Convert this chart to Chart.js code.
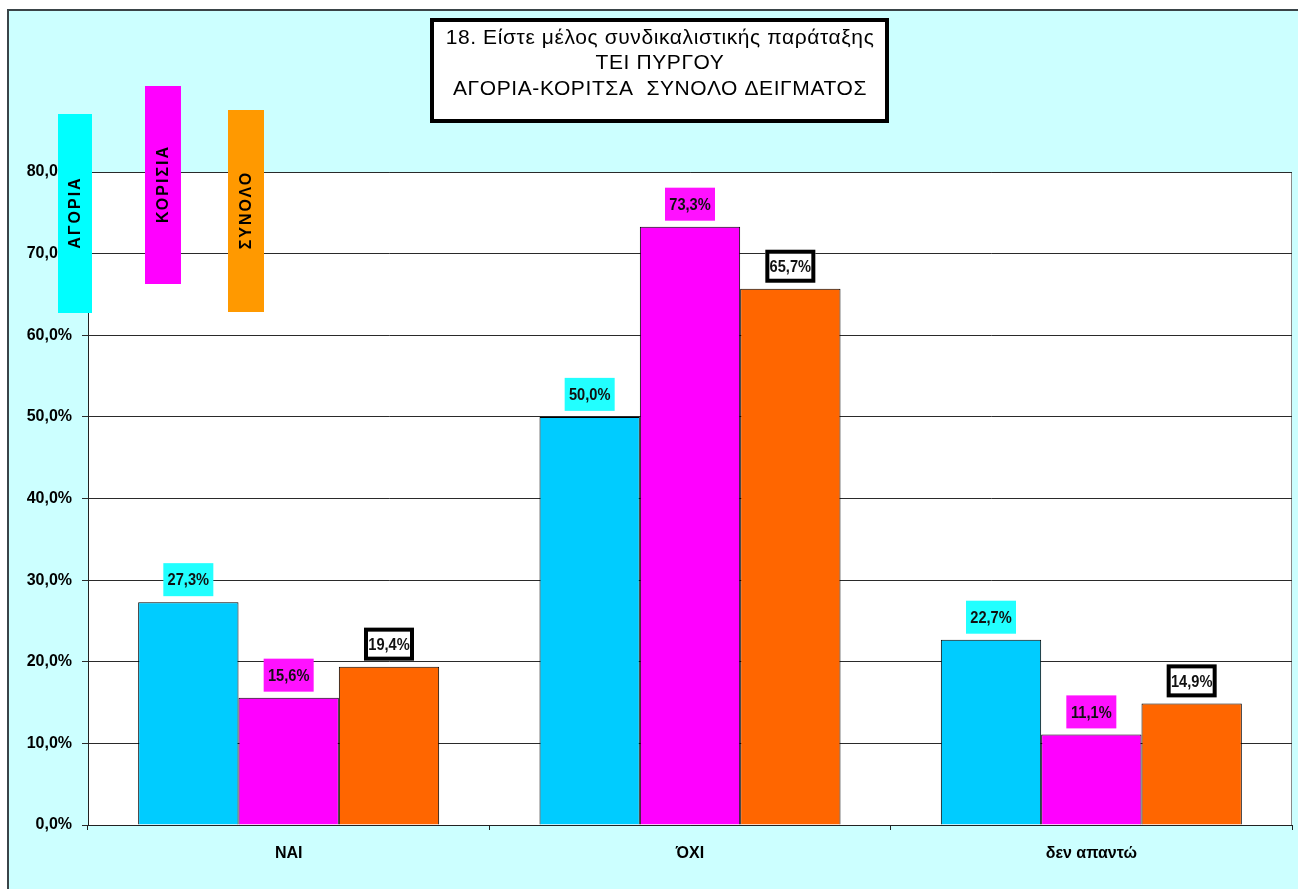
<!DOCTYPE html>
<html>
<head>
<meta charset="utf-8">
<script src="https://cdn.jsdelivr.net/npm/chart.js@4.4.1/dist/chart.umd.min.js"></script>
<style>
    html, body { margin: 0; padding: 0; background: #fff; }
    #chart { display: block; }
</style>
</head>
<body>
<canvas id="chart" width="1298" height="889"></canvas>
<script>
// Dados do gráfico
const categories = ['ΝΑΙ', 'ΌΧΙ', 'δεν απαντώ'];
const seriesNames = ['ΑΓΟΡΙΑ', 'ΚΟΡΙΣΙΑ', 'ΣΥΝΟΛΟ'];
const agoria = [27.3, 50.0, 22.7];
const koritsia = [15.6, 73.3, 11.1];
const synolo = [19.4, 65.7, 14.9];
const titleLines = [
    '18. Είστε μέλος συνδικαλιστικής παράταξης',
    'ΤΕΙ ΠΥΡΓΟΥ',
    'ΑΓΟΡΙΑ-ΚΟΡΙΤΣΑ  ΣΥΝΟΛΟ ΔΕΙΓΜΑΤΟΣ'
];

const sans = "'Liberation Sans', Arial, sans-serif";

function fmt(v) {
    return v.toFixed(1).replace('.', ',') + '%';
}

// Fundo: moldura azul clara e área do gráfico branca
const backgroundPlugin = {
    id: 'background',
    beforeDraw(chart) {
        const ctx = chart.ctx;
        const a = chart.chartArea;
        ctx.save();
        ctx.fillStyle = '#ffffff';
        ctx.fillRect(0, 0, chart.width, chart.height);
        ctx.fillStyle = '#ccffff';
        ctx.fillRect(8, 10, chart.width - 8, chart.height - 10);
        ctx.strokeStyle = '#3a4448';
        ctx.lineWidth = 2;
        ctx.beginPath();
        ctx.moveTo(8, chart.height);
        ctx.lineTo(8, 10);
        ctx.lineTo(chart.width, 10);
        ctx.stroke();
        ctx.fillStyle = '#ffffff';
        ctx.fillRect(a.left, a.top, a.right - a.left, a.bottom - a.top);
        ctx.strokeStyle = '#8a8a8a';
        ctx.lineWidth = 1;
        ctx.strokeRect(a.left + 0.5, a.top + 0.5, a.right - a.left - 1, a.bottom - a.top);
        ctx.restore();
    }
};

// Rótulos, título e legenda desenhados por cima
const labelStyles = [
    { bg: '#22ffff', border: null },
    { bg: '#ff11ff', border: null },
    { bg: '#ffffff', border: '#000000' }
];
const legendBoxes = [
    { x: 58, y: 114, w: 34, h: 199, color: '#00ffff' },
    { x: 145, y: 86, w: 36, h: 198, color: '#ff00ff' },
    { x: 228, y: 110, w: 36, h: 202, color: '#ff9900' }
];

const overlayPlugin = {
    id: 'overlay',
    afterDraw(chart) {
        const ctx = chart.ctx;
        ctx.save();

        // Rótulos de dados (texto estreitado como Arial Narrow)
        chart.data.datasets.forEach((ds, i) => {
            const meta = chart.getDatasetMeta(i);
            const st = labelStyles[i];
            meta.data.forEach((el, j) => {
                const w = 50, h = 33;
                const x = el.x - w / 2;
                const y = el.y - 6 - h;
                ctx.fillStyle = st.bg;
                ctx.fillRect(x, y, w, h);
                if (st.border) {
                    ctx.strokeStyle = st.border;
                    ctx.lineWidth = 4;
                    ctx.strokeRect(x + 2, y + 2, w - 4, h - 4);
                }
                ctx.save();
                ctx.translate(el.x, y + h / 2 + 1);
                ctx.scale(0.86, 1);
                ctx.fillStyle = '#111';
                ctx.font = 'bold 17px ' + sans;
                ctx.textAlign = 'center';
                ctx.textBaseline = 'middle';
                ctx.fillText(fmt(ds.data[j]), 0, 0);
                ctx.restore();
            });
        });

        // Título
        ctx.fillStyle = '#ffffff';
        ctx.fillRect(430, 18, 459, 105);
        ctx.strokeStyle = '#000';
        ctx.lineWidth = 4;
        ctx.strokeRect(432, 20, 455, 101);
        ctx.fillStyle = '#000';
        ctx.font = '21px ' + sans;
        ctx.letterSpacing = '0.6px';
        ctx.textAlign = 'center';
        ctx.textBaseline = 'middle';
        titleLines.forEach((t, k) => {
            ctx.fillText(t, 660, 38 + k * 25.5);
        });
        ctx.letterSpacing = '0px';

        // Legenda (caixas verticais)
        legendBoxes.forEach((b, i) => {
            ctx.fillStyle = b.color;
            ctx.fillRect(b.x, b.y, b.w, b.h);
            ctx.save();
            ctx.translate(b.x + b.w / 2, b.y + b.h / 2);
            ctx.rotate(-Math.PI / 2);
            ctx.fillStyle = '#000';
            ctx.font = 'bold 16px ' + sans;
            ctx.letterSpacing = '2px';
            ctx.textAlign = 'center';
            ctx.textBaseline = 'middle';
            ctx.fillText(seriesNames[i], 1, 1);
            ctx.restore();
        });

        ctx.restore();
    }
};

const chart = new Chart(document.getElementById('chart'), {
    type: 'bar',
    data: {
        labels: categories,
        datasets: [
            { label: seriesNames[0], data: agoria, backgroundColor: '#00ccff' },
            { label: seriesNames[1], data: koritsia, backgroundColor: '#ff00ff' },
            { label: seriesNames[2], data: synolo, backgroundColor: '#ff6600' }
        ]
    },
    options: {
        responsive: false,
        animation: false,
        devicePixelRatio: 1,
        layout: { padding: { left: 8, top: 172, right: 6, bottom: 14 } },
        datasets: {
            bar: {
                borderColor: '#000',
                borderWidth: 1,
                categoryPercentage: 0.75,
                barPercentage: 1.0
            }
        },
        plugins: {
            legend: { display: false },
            title: { display: false },
            tooltip: { enabled: false }
        },
        scales: {
            x: {
                offset: true,
                afterFit: s => { s.height = 50; },
                grid: {
                    offset: true,
                    drawOnChartArea: false,
                    tickLength: 5,
                    color: '#222'
                },
                border: { color: '#222', width: 1 },
                ticks: {
                    color: '#000',
                    padding: 14,
                    font: { family: sans, size: 16, weight: 'bold' }
                }
            },
            y: {
                min: 0,
                max: 80,
                afterFit: s => { s.width = 80; },
                grid: { color: '#2a2a2a', lineWidth: 1, tickLength: 6 },
                border: { color: '#222', width: 1 },
                ticks: {
                    stepSize: 10,
                    color: '#000',
                    padding: 10,
                    font: { family: sans, size: 16, weight: 'bold' },
                    callback: v => fmt(v)
                }
            }
        }
    },
    plugins: [backgroundPlugin, overlayPlugin]
});
</script>
</body>
</html>
